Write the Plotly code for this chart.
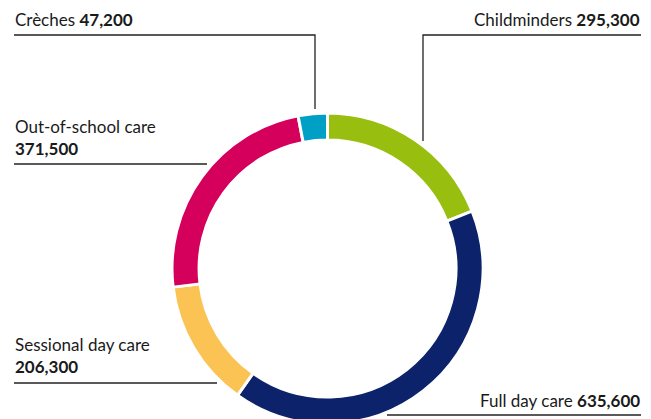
import plotly.graph_objects as go

# ---- data ----
categories = ["Childminders", "Full day care", "Sessional day care", "Out-of-school care", "Crèches"]
values = [295300, 635600, 206300, 371500, 47200]
value_labels = ["295,300", "635,600", "206,300", "371,500", "47,200"]
colors = ["#98BF0F", "#0C236B", "#FBC353", "#D5005B", "#00A0C6"]

# ---- layout constants (pixels) ----
W, H = 651, 424
CX, CY, R = 327.5, 268.5, 155.5
FONT = "Lato"
TXT = "#1a1a1a"

def fx(p):
    return p / W

def fy(p):
    return (H - p) / H

fig = go.Figure()
fig.add_trace(go.Pie(
    labels=categories, values=values, sort=False, direction="clockwise", rotation=0,
    hole=0.826, textinfo="none", hoverinfo="label+value",
    marker=dict(colors=colors, line=dict(color="white", width=3)),
    domain=dict(x=[fx(CX - R), fx(CX + R)], y=[fy(CY + R), fy(CY - R)]),
    showlegend=False,
))

# label placements: (text, x, y_bottom, xanchor, leader polyline points)
labels = [
    (f"Crèches <b>{value_labels[4]}</b>", 14, 31, "left", [(14, 35), (315, 35), (315, 109)]),
    (f"Childminders <b>{value_labels[0]}</b>", 641, 31, "right", [(641, 35), (423, 35), (423, 141)]),
    (f"Out-of-school care<br><b>{value_labels[3]}</b>", 14, 160, "left", [(14, 164), (207, 164)]),
    (f"Sessional day care<br><b>{value_labels[2]}</b>", 14, 378, "left", [(14, 383), (217, 383)]),
    (f"Full day care <b>{value_labels[1]}</b>", 641, 412, "right", [(641, 415), (387, 415)]),
]

for text, x, yb, xa, pts in labels:
    fig.add_annotation(
        text=text, x=fx(x), y=fy(yb), xref="paper", yref="paper",
        xanchor=xa, yanchor="bottom", showarrow=False, align="left",
        font=dict(family=FONT, size=17, color=TXT), borderpad=0,
    )
    path = "M " + " L ".join(f"{fx(px)},{fy(py)}" for px, py in pts)
    fig.add_shape(type="path", path=path, xref="paper", yref="paper",
                  line=dict(color="#222222", width=1.3))

fig.update_layout(
    width=W, height=H, margin=dict(l=0, r=0, t=0, b=0),
    paper_bgcolor="white", plot_bgcolor="white",
)

fig.write_html(
    "out.html",
    config={"displayModeBar": False},
    post_script="document.documentElement.style.overflow='hidden';document.body.style.overflow='hidden';document.body.style.margin='0';",
)
